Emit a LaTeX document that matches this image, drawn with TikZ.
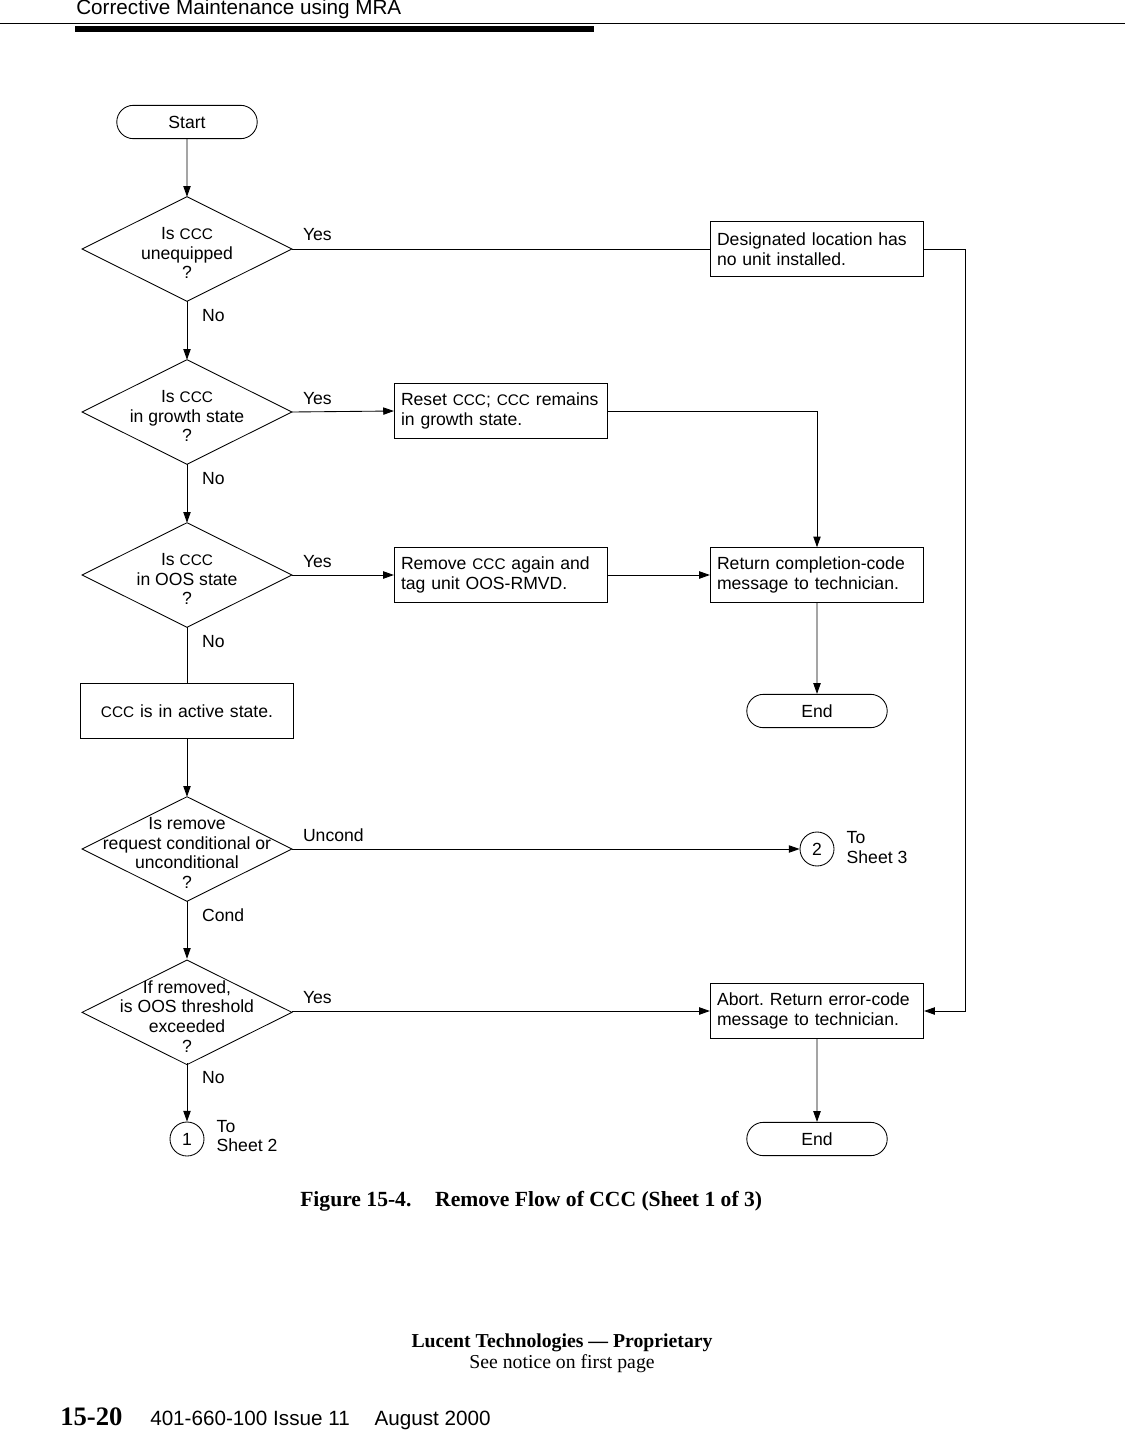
\documentclass[tikz,border=0pt]{standalone}
\usepackage{fontspec}
\setmainfont{Liberation Serif}
\setsansfont{Liberation Sans}
\usetikzlibrary{arrows.meta,shapes.misc}
\frenchspacing
\hyphenpenalty=10000
\newcommand{\cccname}{{\fontsize{11.5}{12}\selectfont CCC}}
\tikzset{
  plain/.style={line width=0.65pt},
  flow/.style={plain, -{Triangle[length=8pt,width=5.5pt]}},
  action/.style={draw, line width=0.65pt, font=\sffamily\fontsize{13.2}{15}\selectfont,
    text width=150pt, align=left, inner xsep=5pt, minimum height=41pt},
  state/.style={action, align=center},
  decision/.style={font=\sffamily\fontsize{13.2}{14.8}\selectfont, align=center,
    minimum width=157pt, minimum height=78pt, inner sep=0pt},
  terminal/.style={draw, line width=0.65pt, rounded rectangle, minimum width=112pt,
    minimum height=25pt, font=\sffamily\fontsize{13.2}{15}\selectfont},
  connector/.style={draw, circle, line width=0.65pt, minimum size=25.5pt, inner sep=0pt,
    font=\sffamily\fontsize{13.2}{15}\selectfont},
  lbl/.style={font=\sffamily\fontsize{13.2}{14.5}\selectfont, inner sep=0pt},
  yeslbl/.style={lbl, pos=0, anchor=base west, xshift=8pt, yshift=6pt},
  nolbl/.style={lbl, pos=0, anchor=base west, xshift=11pt, yshift=-15pt}
}
\begin{document}
\begin{tikzpicture}[x=0.75pt,y=-0.75pt]
 \useasboundingbox (0,0) rectangle (1125,1430);
 % page header
 \node[lbl, font=\sffamily\fontsize{15.5}{16}\selectfont, anchor=base west] (hdr) at (76,15) {Corrective Maintenance using MRA};
 \draw[line width=0.75pt] (0,24) -- (1125,24);
 \fill (75,26) rectangle (594,32);
 % left column
 \node[terminal] (start) at (187,122) {Start};
 \node[decision] (q1) at ([yshift=-3pt]187,249) {Is \cccname\\unequipped\\?};
 \node[decision] (q2) at ([yshift=-3pt]187,412) {Is \cccname\\in growth state\\?};
 \node[decision] (q3) at ([yshift=-3pt]187,575) {Is \cccname\\in OOS state\\?};
 \node[state] (active) at (187,711) {\cccname{} is in active state.};
 \node[decision] (q4) at ([yshift=-3pt]187,849) {Is remove\\request conditional or\\unconditional\\?};
 \node[decision] (q5) at ([yshift=-4pt]187,1011) {If removed,\\is OOS threshold\\exceeded\\?};
 \node[connector] (c1) at (187,1139) {1};
 \node[lbl, anchor=west, align=left] (to2) at ([xshift=9pt,yshift=2pt]c1.east) {To\\Sheet 2};
 \foreach \q in {q1,q2,q3,q4,q5}{
   \draw[plain] ([yshift=3pt]\q.north) -- ([yshift=3pt]\q.east) -- ([yshift=3pt]\q.south) -- ([yshift=3pt]\q.west) -- cycle;}
 % right columns
 \node[action] (desig) at (817,249) {Designated location has\\no unit installed.};
 \node[action] (reset) at (501,411) {Reset \cccname; \cccname{} remains\\in growth state.};
 \node[action] (remove) at (501,575) {Remove \cccname{} again and\\tag unit OOS-RMVD.};
 \node[action] (ret) at (817,575) {Return completion-code\\message to technician.};
 \node[terminal] (end1) at (817,711) {End};
 \node[connector] (c2) at (817,849) {2};
 \node[lbl, anchor=west, align=left] (to3) at ([xshift=9pt,yshift=1pt]c2.east) {To\\Sheet 3};
 \node[action] (abort) at (817,1011) {Abort. Return error-code\\message to technician.};
 \node[terminal] (end2) at (817,1139) {End};
 \coordinate (bend) at (965,249);
 % connectors
 \draw[flow] (start) -- ([yshift=3pt]q1.north);
 \draw[plain] ([yshift=3pt]q1.east) -- node[yeslbl] {Yes} (desig.west);
 \draw[flow] ([yshift=3pt]q1.south) -- node[nolbl] {No} ([yshift=3pt]q2.north);
 \draw[flow] ([yshift=3pt]q2.east) -- node[yeslbl] {Yes} (reset.west);
 \draw[flow] ([yshift=3pt]q2.south) -- node[nolbl] {No} ([yshift=3pt]q3.north);
 \draw[flow] ([yshift=3pt]q3.east) -- node[yeslbl] {Yes} (remove.west);
 \draw[plain] ([yshift=3pt]q3.south) -- node[nolbl] {No} (active.north);
 \draw[flow] (active) -- ([yshift=3pt]q4.north);
 \draw[flow] ([yshift=3pt]q4.east) -- node[yeslbl] {Uncond} (c2.west);
 \draw[flow] ([yshift=3pt]q4.south) -- node[nolbl] {Cond} ([yshift=4pt]q5.north);
 \draw[flow] ([yshift=4pt]q5.east) -- node[yeslbl] {Yes} (abort.west);
 \draw[flow] ([yshift=4pt]q5.south) -- node[nolbl] {No} (c1.north);
 \draw[flow] (reset.east) -| (ret.north);
 \draw[flow] (remove) -- (ret);
 \draw[flow] (ret) -- (end1);
 \draw[flow] (desig.east) -- (bend) |- (abort.east);
 \draw[flow] (abort) -- (end2);
 % caption and page footer
 \node[lbl, font=\bfseries\fontsize{16.2}{18}\selectfont, anchor=base west] (caption) at (300,1206) {Figure 15-4.\hspace{1.1em}Remove Flow of CCC (Sheet 1 of 3)};
 \node[lbl, font=\bfseries\fontsize{14.8}{16}\selectfont, anchor=base] (prop) at (562,1347) {Lucent Technologies --- Proprietary};
 \node[lbl, font=\fontsize{14.8}{16}\selectfont, anchor=base] (notice) at (562,1368) {See notice on first page};
 \node[lbl, font=\bfseries\fontsize{20}{20}\selectfont, anchor=base west] (pgno) at (60,1425) {15-20};
 \node[lbl, font=\sffamily\fontsize{15.5}{16}\selectfont, anchor=base west] (docno) at (150,1425) {401-660-100 Issue 11\hspace{1.2em}August 2000};
\end{tikzpicture}
\end{document}
